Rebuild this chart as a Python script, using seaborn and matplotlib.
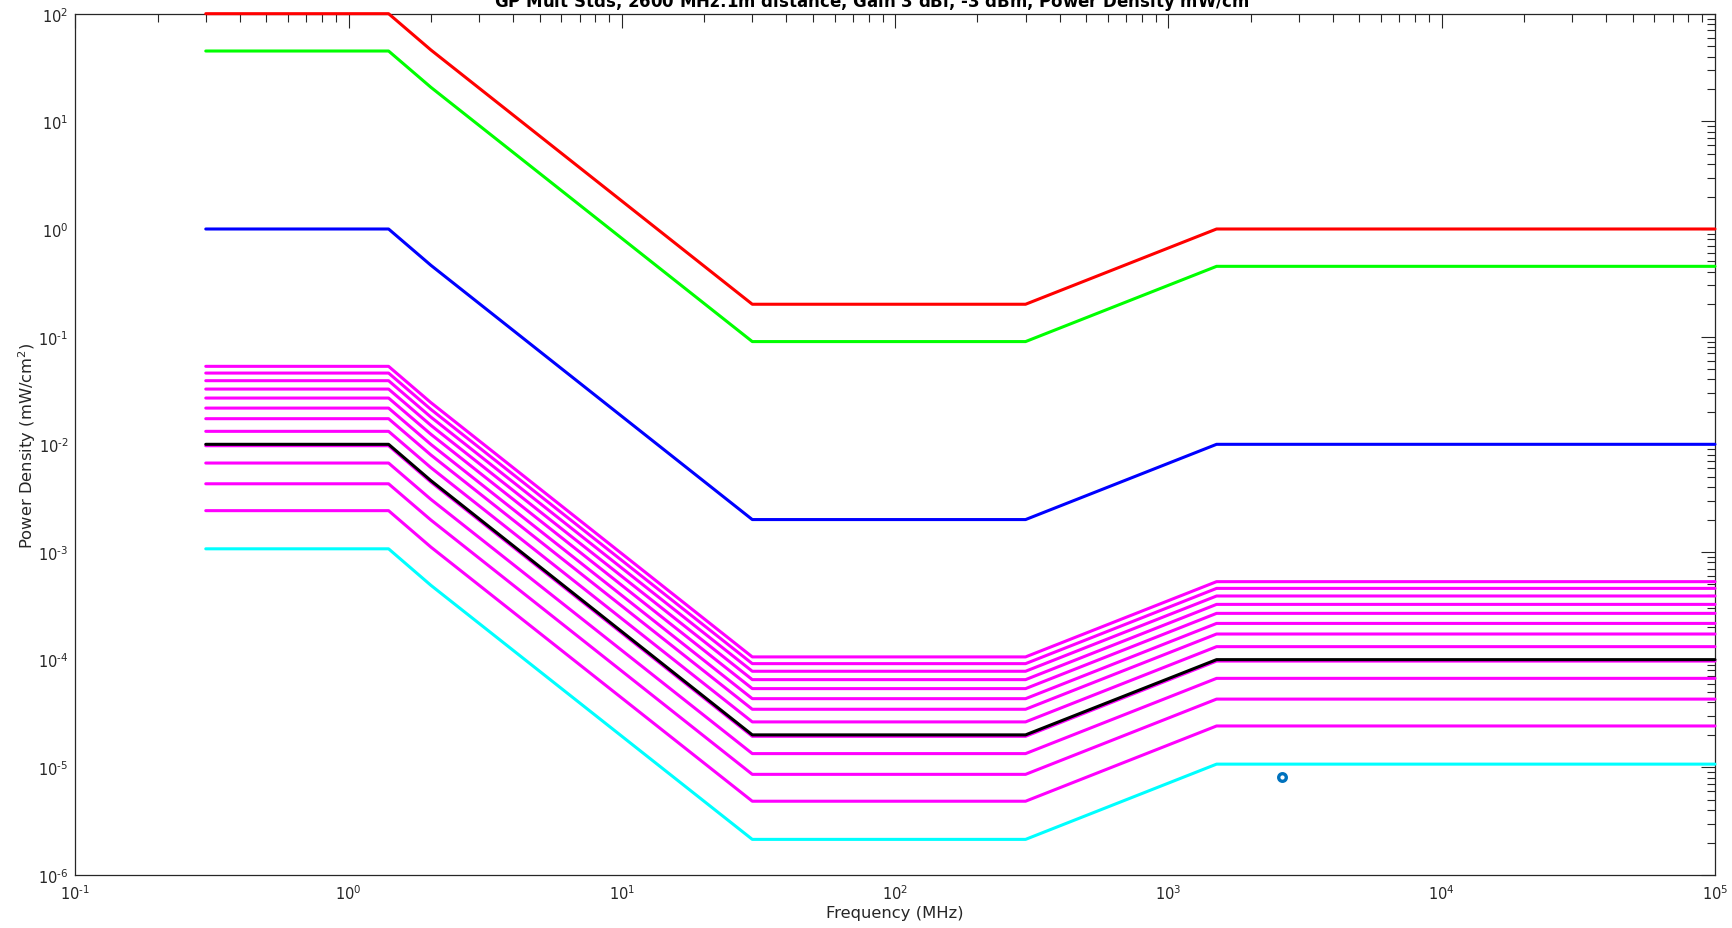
import numpy as np
import pandas as pd
import matplotlib
matplotlib.use("Agg")
import matplotlib.pyplot as plt
from matplotlib.ticker import LogLocator, NullFormatter, FuncFormatter
import seaborn as sns

# Frequency breakpoints of the exposure-limit curves (MHz)
freq_mhz = [0.3, 1.4, 2.0, 30.0, 300.0, 1500.0, 100000.0]

# Power-density limit curves (mW/cm^2) at each breakpoint
red_limit = [100.0, 100.0, 46.0, 0.2, 0.2, 1.0, 1.0]
green_limit = [45.0, 45.0, 20.7, 0.09, 0.09, 0.45, 0.45]
blue_limit = [1.0, 1.0, 0.46, 0.002, 0.002, 0.01, 0.01]
black_limit = [0.01, 0.01, 0.0046, 2.0e-5, 2.0e-5, 1.0e-4, 1.0e-4]
cyan_limit = [1.07e-3, 1.07e-3, 4.9e-4, 2.14e-6, 2.14e-6, 1.07e-5, 1.07e-5]

# Family of magenta curves (mW/cm^2)
magenta_curves = [
    [5.30e-2, 5.30e-2, 2.44e-2, 1.060e-4, 1.060e-4, 5.30e-4, 5.30e-4],
    [4.59e-2, 4.59e-2, 2.11e-2, 9.18e-5, 9.18e-5, 4.59e-4, 4.59e-4],
    [3.90e-2, 3.90e-2, 1.79e-2, 7.80e-5, 7.80e-5, 3.90e-4, 3.90e-4],
    [3.26e-2, 3.26e-2, 1.50e-2, 6.52e-5, 6.52e-5, 3.26e-4, 3.26e-4],
    [2.69e-2, 2.69e-2, 1.24e-2, 5.38e-5, 5.38e-5, 2.69e-4, 2.69e-4],
    [2.17e-2, 2.17e-2, 9.98e-3, 4.34e-5, 4.34e-5, 2.17e-4, 2.17e-4],
    [1.73e-2, 1.73e-2, 7.96e-3, 3.46e-5, 3.46e-5, 1.73e-4, 1.73e-4],
    [1.32e-2, 1.32e-2, 6.07e-3, 2.64e-5, 2.64e-5, 1.32e-4, 1.32e-4],
    [9.7e-3, 9.7e-3, 4.46e-3, 1.94e-5, 1.94e-5, 9.7e-5, 9.7e-5],
    [6.7e-3, 6.7e-3, 3.08e-3, 1.34e-5, 1.34e-5, 6.7e-5, 6.7e-5],
    [4.3e-3, 4.3e-3, 1.98e-3, 8.6e-6, 8.6e-6, 4.3e-5, 4.3e-5],
    [2.42e-3, 2.42e-3, 1.11e-3, 4.84e-6, 4.84e-6, 2.42e-5, 2.42e-5],
]

# Operating point: 2600 MHz at 1 m
point_freq = [2600.0]
point_density = [8.1e-6]

title_text = "GP Mult Stds, 2600 MHz:1m distance, Gain 3 dBi, -3 dBm, Power Density mW/cm$^2$"

sns.set_theme(style="white")
plt.rcParams["font.family"] = ["DejaVu Sans"]
text_color = "#262626"

fig = plt.figure(figsize=(17.33, 9.29), dpi=100)
ax = fig.add_axes([0.0435, 0.0571, 0.9461, 0.9271])

lw = 2.2
for curve in magenta_curves:
    sns.lineplot(x=freq_mhz, y=curve, color="#ff00ff", lw=lw, ax=ax,
                 sort=False, estimator=None, clip_on=False, zorder=3)

for curve, color in [(red_limit, "#ff0000"), (green_limit, "#00ff00"),
                     (blue_limit, "#0000ff"), (black_limit, "#000000"),
                     (cyan_limit, "#00ffff")]:
    sns.lineplot(x=freq_mhz, y=curve, color=color, lw=lw, ax=ax,
                 sort=False, estimator=None, clip_on=False, zorder=3)

sns.scatterplot(x=point_freq, y=point_density, marker="o", s=30,
                facecolor="white", edgecolor="#0072BD", linewidth=2.4,
                ax=ax, zorder=5)

ax.set_xscale("log")
ax.set_yscale("log")
ax.set_xlim(0.1, 1e5)
ax.set_ylim(1e-6, 1e2)


def power_of_ten(value, _pos):
    exponent = int(round(np.log10(value)))
    if exponent < 0:
        return r"$10^{\text{-}%d}$" % (-exponent)
    return r"$10^{%d}$" % exponent


for axis in (ax.xaxis, ax.yaxis):
    axis.set_major_locator(LogLocator(base=10, numticks=100))
    axis.set_major_formatter(FuncFormatter(power_of_ten))
    axis.set_minor_locator(LogLocator(base=10, subs=np.arange(2, 10), numticks=100))
    axis.set_minor_formatter(NullFormatter())

ax.tick_params(which="both", direction="in", top=True, right=True,
               colors=text_color, labelsize=10.5, width=0.8)
ax.tick_params(which="major", length=10)
ax.tick_params(which="minor", length=5.5)
ax.tick_params(axis="y", pad=5)
ax.tick_params(axis="x", pad=6)

for spine in ax.spines.values():
    spine.set_color(text_color)
    spine.set_linewidth(0.9)

ax.set_xlabel("Frequency (MHz)", fontsize=11.8, color=text_color, labelpad=2)
ax.set_ylabel("Power Density (mW/cm$^2$)", fontsize=11.8, color=text_color, labelpad=0)

fig.text(0.505, 1 - 8 / 929, title_text, ha="center", va="baseline",
         fontsize=12, fontweight="bold", color="#000000")

fig.savefig("out.png", dpi=100)
